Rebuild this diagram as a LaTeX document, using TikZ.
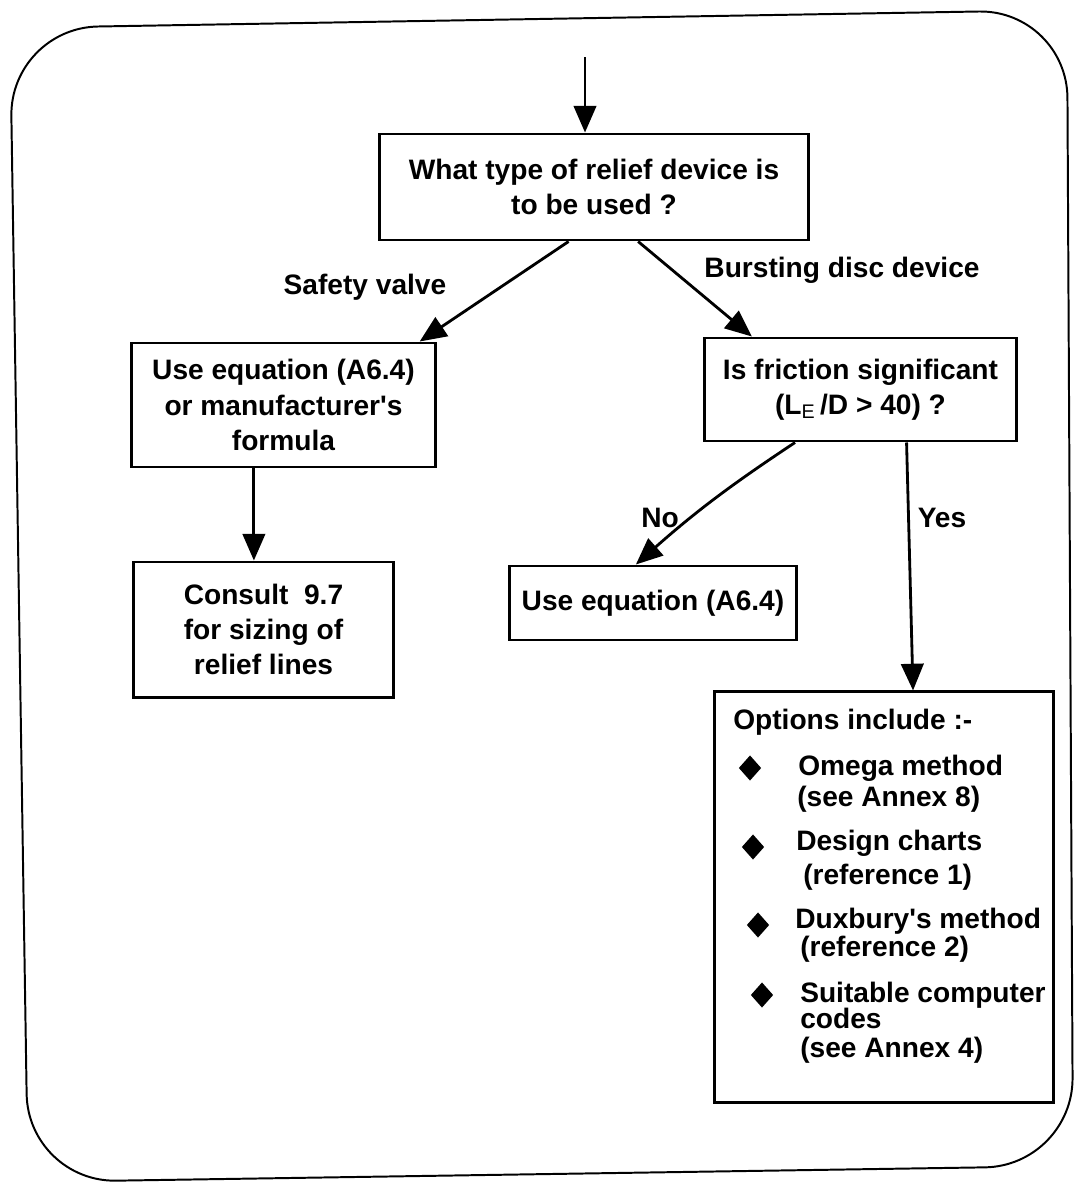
\documentclass[tikz,border=0pt]{standalone}
\usepackage{fontspec}
\setmainfont{Liberation Sans}
\usetikzlibrary{arrows.meta,shapes.geometric}

\begin{document}
\begin{tikzpicture}[x=0.025cm,y=-0.025cm,
  every node/.style={font=\bfseries\fontsize{20}{25}\selectfont},
  box/.style={draw,line width=2.1pt,align=center,inner sep=0pt},
  flow/.style={line width=2pt,-{Triangle[length=19pt,width=16pt]}},
  item/.style={anchor=base west,inner sep=0pt},
  bullet/.style={diamond,fill,inner sep=0pt,minimum width=16pt,minimum height=18pt}]
  \useasboundingbox (0,0) rectangle (1076,1184);
  \draw[line width=1.4pt,rounded corners=2.2cm] (10,28) -- (1067,10) -- (1073,1166) -- (28,1182) -- cycle;
  \coordinate (in) at (585,57);
  \node[box,minimum width=10.7cm,minimum height=2.65cm] (q1) at (594,187) {What type of relief device is\\to be used ?};
  \node[box,minimum width=7.575cm,minimum height=3.1cm] (sv) at (283.5,405) {Use equation (A6.4)\\or manufacturer\textquotesingle s\\formula};
  \node[box,minimum width=6.475cm,minimum height=3.375cm] (cons) at (263.5,629.5) {Consult~~9.7\\for sizing of\\relief lines};
  \node[box,minimum width=7.775cm,minimum height=2.575cm] (fric) at (860.5,389.5) {Is friction significant\\(L\textsubscript{\mdseries E}\,/D > 40) ?};
  \node[box,minimum width=7.15cm,minimum height=1.85cm] (eq) at (653,603) {Use equation (A6.4)};
  \node[box,minimum width=8.45cm,minimum height=10.25cm] (opts) at (884,897) {};
  \node[inner sep=0pt] (lsv) at (365,287) {Safety valve};
  \node[inner sep=0pt] (lbd) at (842,270) {Bursting disc device};
  \node[inner sep=0pt] (lno) at (660,518) {No};
  \node[inner sep=0pt] (lyes) at (942,518) {Yes};
  \node[item] (ohead) at (733,729) {Options include :-};
  \node[bullet] (b1) at (750,768) {};
  \node[item] (o1a) at (798,775) {Omega method};
  \node[item] (o1b) at (797,806) {(see Annex 8)};
  \node[bullet] (b2) at (753,847) {};
  \node[item] (o2a) at (796,850) {Design charts};
  \node[item] (o2b) at (803,884) {(reference 1)};
  \node[bullet] (b3) at (758,925) {};
  \node[item] (o3a) at (795,928) {Duxbury\textquotesingle s method};
  \node[item] (o3b) at (800,956) {(reference 2)};
  \node[bullet] (b4) at (762,995) {};
  \node[item] (o4a) at (800,1002) {Suitable computer};
  \node[item] (o4b) at (800,1028) {codes};
  \node[item] (o4c) at (800,1057) {(see Annex 4)};
  \draw[flow] (in) -- (in |- q1.north);
  \draw[flow] (q1.245.6) -- (sv.25.8);
  \draw[flow] (q1.-51) -- (fric.154.2);
  \draw[flow] (sv.245.3) -- (sv.245.3 |- cons.north);
  \draw[flow] (fric.219.9) to[bend right=4] (eq.114.7);
  \draw[flow] (fric.-49.2) -- (opts.82.8);
\end{tikzpicture}
\end{document}
